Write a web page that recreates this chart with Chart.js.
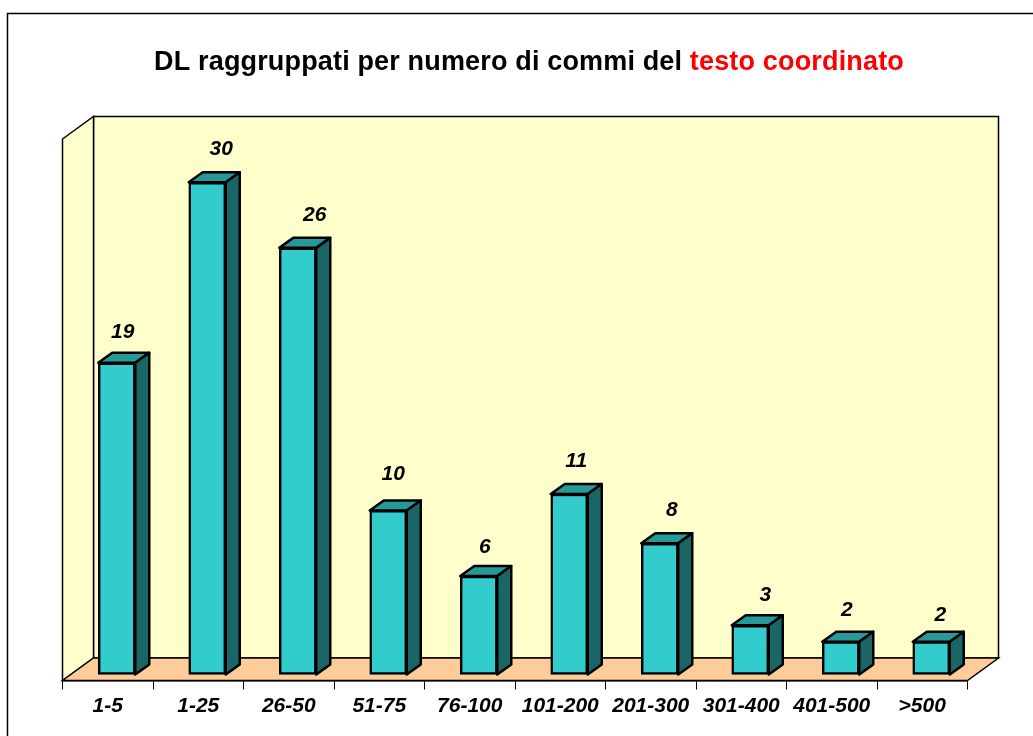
<!DOCTYPE html>
<html>
<head>
<meta charset="utf-8">
<title>DL raggruppati per numero di commi</title>
<style>
html, body { margin: 0; padding: 0; background: #fff; overflow: hidden; }
canvas { display: block; }
</style>
<script src="https://cdn.jsdelivr.net/npm/chart.js@4"></script>
</head>
<body>
<canvas id="myChart" width="1033" height="736"></canvas>
<script>
var categories = ['1-5', '1-25', '26-50', '51-75', '76-100', '101-200', '201-300', '301-400', '401-500', '>500'];
var values = [19, 30, 26, 10, 6, 11, 8, 3, 2, 2];
var titleParts = ['DL raggruppati per numero di commi del ', 'testo coordinato'];
var titleColors = ['#000000', '#FF0000'];

// hand nudges for the value labels, the original placed them unevenly
var labelNudgeX = [6, 14, 17, 5, 6, 7, 12, 15, 6, 9];
var labelNudgeY = [-31, -33, -33, -36, -29, -33, -33, -30, -31, -26];

var FONT = '"Liberation Sans", Arial, sans-serif';
var WALL_DX = 31, WALL_DY = 22.5;   // depth of the room
var BAR_DX = 14, BAR_DY = 10;       // depth of each bar
var SHIFT_X = 9, SHIFT_Y = 6;       // bars stand a bit inside the floor

function poly(ctx, pts, fill) {
    ctx.beginPath();
    ctx.moveTo(pts[0][0], pts[0][1]);
    for (var i = 1; i < pts.length; i++) ctx.lineTo(pts[i][0], pts[i][1]);
    ctx.closePath();
    if (fill) {
        ctx.fillStyle = fill;
        ctx.fill();
    }
    ctx.stroke();
}

var roomPlugin = {
    id: 'room',
    beforeDraw: function (chart) {
        var ctx = chart.ctx, a = chart.chartArea;
        var l = a.left, r = a.right, t = a.top, b = a.bottom;
        ctx.save();
        ctx.strokeStyle = '#000';
        ctx.lineWidth = 1.5;

        // outer frame, only top and left in the original
        ctx.beginPath();
        ctx.moveTo(7.5, 736);
        ctx.lineTo(7.5, 13.5);
        ctx.lineTo(1033, 13.5);
        ctx.stroke();

        poly(ctx, [[l + WALL_DX, t - WALL_DY], [r + WALL_DX, t - WALL_DY], [r + WALL_DX, b - WALL_DY], [l + WALL_DX, b - WALL_DY]], '#FFFFCC');
        poly(ctx, [[l, t], [l + WALL_DX, t - WALL_DY], [l + WALL_DX, b - WALL_DY], [l, b]], '#FFFFCC');
        poly(ctx, [[l, b], [l + WALL_DX, b - WALL_DY], [r + WALL_DX, b - WALL_DY], [r, b]], '#FFCC99');

        // title in two colours
        ctx.font = 'bold 27px ' + FONT;
        ctx.letterSpacing = '0.16px';
        ctx.textBaseline = 'middle';
        ctx.textAlign = 'left';
        var total = ctx.measureText(titleParts[0]).width + ctx.measureText(titleParts[1]).width;
        var x = 529 - total / 2;
        for (var i = 0; i < titleParts.length; i++) {
            ctx.fillStyle = titleColors[i];
            ctx.fillText(titleParts[i], x, 63);
            x += ctx.measureText(titleParts[i]).width;
        }
        ctx.letterSpacing = '0px';
        ctx.restore();
    },
    beforeDatasetsDraw: function (chart) {
        var ctx = chart.ctx;
        ctx.save();
        ctx.translate(SHIFT_X, -SHIFT_Y);
        ctx.strokeStyle = '#000';
        ctx.lineWidth = 2.5;
        ctx.lineJoin = 'round';
        chart.getDatasetMeta(0).data.forEach(function (bar) {
            var right = bar.x + bar.width / 2, left = bar.x - bar.width / 2;
            poly(ctx, [[left, bar.y], [left + BAR_DX, bar.y - BAR_DY], [right + BAR_DX, bar.y - BAR_DY], [right, bar.y]], '#269999');
            poly(ctx, [[right, bar.y], [right + BAR_DX, bar.y - BAR_DY], [right + BAR_DX, bar.base - BAR_DY], [right, bar.base]], '#1A6666');
        });
    },
    afterDatasetsDraw: function (chart) {
        var ctx = chart.ctx;
        ctx.restore();
        ctx.save();
        ctx.font = 'italic bold 21px ' + FONT;
        ctx.fillStyle = '#000';
        ctx.textAlign = 'center';
        ctx.textBaseline = 'middle';
        chart.getDatasetMeta(0).data.forEach(function (bar, i) {
            ctx.fillText(String(values[i]), bar.x + SHIFT_X + labelNudgeX[i], bar.y - SHIFT_Y + labelNudgeY[i]);
        });
        ctx.restore();
    }
};

var ctx = document.getElementById('myChart').getContext('2d');
var myChart = new Chart(ctx, {
    type: 'bar',
    plugins: [roomPlugin],
    data: {
        labels: categories,
        datasets: [{
            data: values,
            backgroundColor: '#33CCCC',
            borderColor: '#000',
            borderWidth: 2.5,
            borderSkipped: false,
            barThickness: 37,
            clip: false
        }]
    },
    options: {
        responsive: false,
        animation: false,
        layout: {
            padding: { left: 62.5, right: 65.5, top: 139, bottom: 0 }
        },
        plugins: {
            legend: { display: false },
            tooltip: { enabled: false }
        },
        scales: {
            x: {
                afterFit: function (scale) {
                    scale.height = 55.5;
                },
                border: { color: '#000', width: 1.5 },
                grid: {
                    offset: true,
                    color: '#000',
                    drawOnChartArea: false,
                    tickLength: 9,
                    tickWidth: 1
                },
                ticks: {
                    color: '#000',
                    maxRotation: 0,
                    autoSkip: false,
                    padding: 4,
                    font: { family: FONT, size: 21, weight: 'bold', style: 'italic' }
                }
            },
            y: {
                display: false,
                min: 0,
                max: 33
            }
        }
    }
});
</script>
</body>
</html>
